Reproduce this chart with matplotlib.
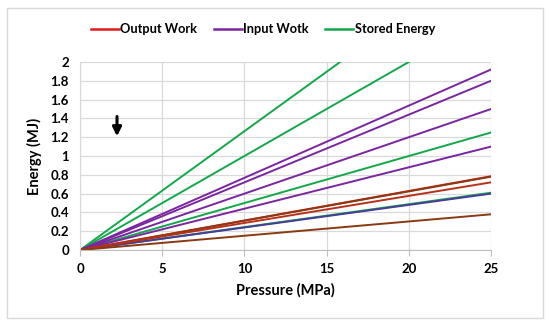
import numpy as np
import matplotlib.pyplot as plt
from matplotlib.patches import Rectangle

plt.rcParams['font.family'] = ['Lato', 'DejaVu Sans']
plt.rcParams['font.weight'] = 'bold'

# pressure points (MPa)
pressure = [0, 25]

# Stored Energy lines (MJ)
stored = [[0, 3.16], [0, 2.50], [0, 1.25], [0, 0.61]]
# Input work lines (MJ)
inputw = [[0, 1.92], [0, 1.80], [0, 1.50], [0, 1.10], [0, 0.60]]
# Output work lines (MJ)
output = [[0, 0.785], [0, 0.72], [0, 0.38]]
output_dark = [[0, 0.78]]

c_red = '#e41a1c'
c_purple = '#7b25a0'
c_green = '#12a84a'
c_brown = '#8a3a12'

fig = plt.figure(figsize=(5.5, 3.29), dpi=100)
ax = fig.add_axes([0.1455, 0.240, 0.7473, 0.5716])

for v in stored:
    ax.plot(pressure, v, color=c_green, lw=1.4)
for v in inputw[:-1]:
    ax.plot(pressure, v, color=c_purple, lw=1.4)
ax.plot(pressure, inputw[-1], color='#4a3a9a', lw=1.4)
ax.plot(pressure, output[0], color=c_red, lw=1.4)
for v in output_dark:
    ax.plot(pressure, v, color=c_brown, lw=1.4)
ax.plot(pressure, output[1], color='#b8301a', lw=1.4)
ax.plot(pressure, output[2], color=c_brown, lw=1.4)

ax.set_xlim(0, 25)
ax.set_ylim(0, 2)
ax.set_xticks([0, 5, 10, 15, 20, 25])
ax.set_yticks(np.arange(0, 2.01, 0.2))
ax.set_yticklabels(['0', '0.2', '0.4', '0.6', '0.8', '1', '1.2', '1.4', '1.6', '1.8', '2'])
ax.grid(True, color='#d9d9d9', lw=0.9)
ax.set_axisbelow(True)
for s in ['top', 'right']:
    ax.spines[s].set_visible(False)
ax.spines['left'].set_color('#d9d9d9')
ax.spines['bottom'].set_color('#bfbfbf')
ax.tick_params(axis='y', length=0, labelsize=9.5, pad=8)
ax.tick_params(axis='x', length=4, color='#bfbfbf', labelsize=9.5, pad=5)
ax.set_xlabel('Pressure (MPa)', fontsize=10.5, fontweight='bold', labelpad=6)
ax.set_ylabel('Energy (MJ)', fontsize=10.5, fontweight='bold', labelpad=6)

ax.annotate('', xy=(2.25, 1.21), xytext=(2.25, 1.42),
            arrowprops=dict(arrowstyle='-|>', color='black', lw=2.2,
                            mutation_scale=13, shrinkA=0, shrinkB=0))

handles = [plt.Line2D([], [], color=c, lw=1.8) for c in [c_red, c_purple, c_green]]
fig.legend(handles, ['Output Work', 'Input Wotk', 'Stored Energy'],
           loc='center', bbox_to_anchor=(0.478, 0.911), ncol=3, frameon=False,
           fontsize=9.2, handlelength=2.2, handletextpad=0.1, columnspacing=1.3)

fig.patches.append(Rectangle((7 / 550, 11 / 329), 536 / 550, 310 / 329,
                             transform=fig.transFigure, fill=False,
                             edgecolor='#d9d9d9', lw=1))

fig.savefig('out.png', dpi=100)
